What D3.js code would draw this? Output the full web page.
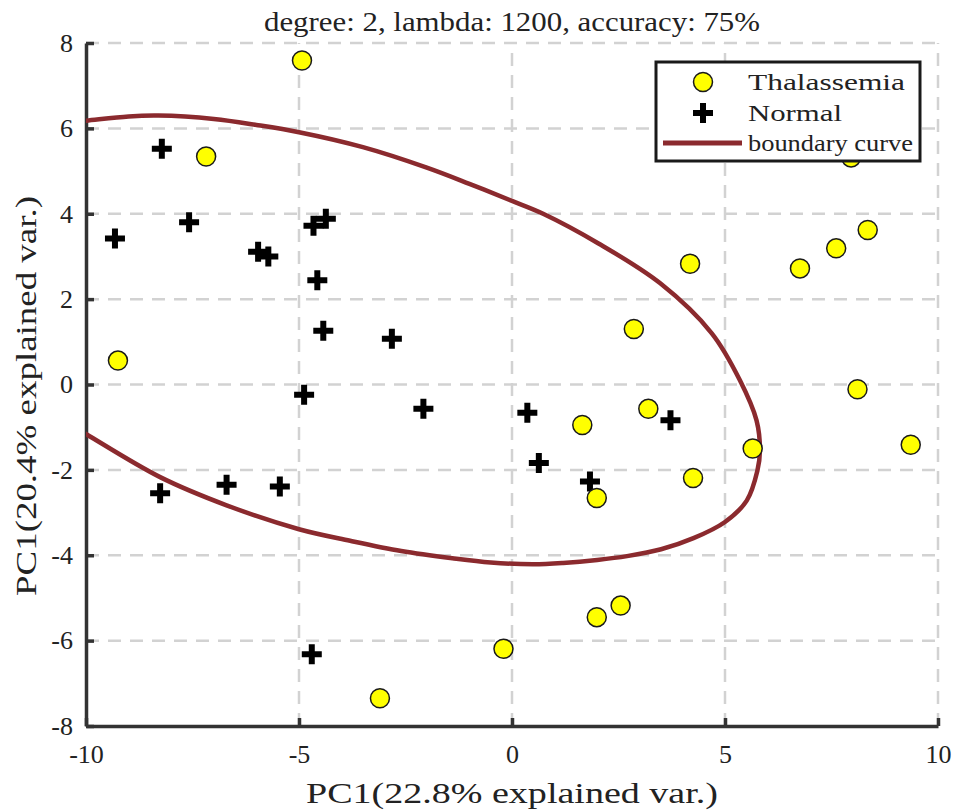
<!DOCTYPE html>
<html>
<head>
<meta charset="utf-8">
<script src="https://cdn.jsdelivr.net/npm/d3@7"></script>
<style>
  body { margin: 0; background: #fff; }
  text { font-family: "Liberation Serif", "DejaVu Serif", serif; fill: #222; }
</style>
</head>
<body>
<script>
// Thalassemia samples (PC1, PC2)
var thalX = [-4.93, -7.18, -9.25, 7.96, 4.18, 6.76, 7.61, 8.35, 2.86, 8.11, 9.36, 3.20, 1.65, 5.65, 4.25, 1.99, 2.55, 1.99, -0.20, -3.10];
var thalY = [7.59, 5.34, 0.56, 5.32, 2.83, 2.72, 3.19, 3.62, 1.30, -0.11, -1.41, -0.57, -0.95, -1.50, -2.19, -2.66, -5.18, -5.45, -6.19, -7.35];

// Normal samples
var normX = [-8.22, -9.32, -7.58, -5.96, -5.72, -4.66, -4.37, -4.57, -4.43, -2.82, -4.88, -2.08, 0.36, 3.72, 0.63, 1.83, -8.26, -6.70, -5.45, -4.70];
var normY = [5.52, 3.42, 3.80, 3.11, 3.00, 3.72, 3.88, 2.44, 1.26, 1.07, -0.24, -0.57, -0.66, -0.84, -1.84, -2.27, -2.55, -2.35, -2.39, -6.32];

// boundary curve
var curveX = [-10.6, -10, -9, -8.3, -7, -6, -5, -3.5, -2, -1, 0, 0.73, 2.02, 3.48, 4.69, 5.35, 5.74, 5.82, 5.76, 5.51, 5.0, 4.26, 3.5, 2.7, 2.0, 1.2, 0.5, -0.5, -1.4, -2.6, -3.8, -5.0, -6.70, -8.26, -10, -10.6];
var curveY = [6.12, 6.18, 6.28, 6.30, 6.22, 6.08, 5.91, 5.56, 5.08, 4.70, 4.30, 4.0, 3.31, 2.37, 1.20, 0.10, -0.84, -1.55, -2.02, -2.72, -3.22, -3.60, -3.86, -4.02, -4.11, -4.18, -4.21, -4.17, -4.07, -3.90, -3.66, -3.39, -2.83, -2.17, -1.16, -0.8];

var xTicks = [-10, -5, 0, 5, 10];
var yTicks = [-8, -6, -4, -2, 0, 2, 4, 6, 8];

var titleText = "degree: 2, lambda: 1200, accuracy: 75%";
var xLabel = "PC1(22.8% explained var.)";
var yLabel = "PC1(20.4% explained var.)";
var legendLabels = ["Thalassemia", "Normal", "boundary curve"];
var legendWidths = [157, 94, 165];

var W = 966, H = 812;
var margin = {top: 43, right: 28, bottom: 86, left: 86};

var x = d3.scaleLinear().domain([-10, 10]).range([margin.left, W - margin.right]);
var y = d3.scaleLinear().domain([-8, 8]).range([H - margin.bottom, margin.top]);

var svg = d3.select("body").append("svg")
  .attr("width", W)
  .attr("height", H);

svg.append("defs").append("clipPath")
  .attr("id", "plotclip")
  .append("rect")
  .attr("x", x(-10)).attr("y", y(8) - 10)
  .attr("width", x(10) - x(-10)).attr("height", y(-8) - y(8) + 10);

// Grid
var grid = svg.append("g");
grid.selectAll(".vg").data(xTicks.slice(1))
  .enter().append("line")
  .attr("x1", function (d) { return x(d); })
  .attr("x2", function (d) { return x(d); })
  .attr("y1", y(-8)).attr("y2", y(8))
  .attr("stroke", "#d2d2d2").attr("stroke-width", 2.5)
  .attr("stroke-dasharray", "13,9");
grid.selectAll(".hg").data(yTicks.slice(1))
  .enter().append("line")
  .attr("y1", function (d) { return y(d); })
  .attr("y2", function (d) { return y(d); })
  .attr("x1", x(-10)).attr("x2", x(10))
  .attr("stroke", "#d2d2d2").attr("stroke-width", 2.5)
  .attr("stroke-dasharray", "13,9");

// Axes (ticks pointing inward), plain hyphen for negatives
var fmt = function (d) { return String(d); };
var xAxis = svg.append("g")
  .attr("transform", "translate(0," + y(-8) + ")")
  .call(d3.axisBottom(x).tickValues(xTicks).tickFormat(fmt).tickSizeInner(-8).tickSizeOuter(0).tickPadding(14));
var yAxis = svg.append("g")
  .attr("transform", "translate(" + x(-10) + ",0)")
  .call(d3.axisLeft(y).tickValues(yTicks).tickFormat(fmt).tickSizeInner(-8).tickSizeOuter(0).tickPadding(13));

[xAxis, yAxis].forEach(function (a) {
  a.select(".domain").attr("stroke", "#333").attr("stroke-width", 3.5);
  a.selectAll(".tick line").attr("stroke", "#333").attr("stroke-width", 3.5);
  a.selectAll(".tick text")
    .style("font-family", "Liberation Serif")
    .style("font-size", "26px")
    .attr("fill", "#222");
});
xAxis.selectAll(".tick text").attr("dy", "0.9em");

// Boundary curve
var curvePts = curveX.map(function (d, i) { return [d, curveY[i]]; });
svg.append("path")
  .datum(curvePts)
  .attr("clip-path", "url(#plotclip)")
  .attr("fill", "none")
  .attr("stroke", "#8b2a2e")
  .attr("stroke-width", 4.5)
  .attr("d", d3.line()
    .x(function (d) { return x(d[0]); })
    .y(function (d) { return y(d[1]); })
    .curve(d3.curveCatmullRom));

// Plus marker path
var plusPath = "M-3,-10H3V-3H10V3H3V10H-3V3H-10V-3H-3Z";

// Normal crosses
svg.selectAll(".norm")
  .data(normX.map(function (d, i) { return [d, normY[i]]; }))
  .enter().append("path")
  .attr("d", plusPath)
  .attr("fill", "#000")
  .attr("transform", function (d) { return "translate(" + x(d[0]) + "," + y(d[1]) + ")"; });

// Thalassemia circles
svg.selectAll(".thal")
  .data(thalX.map(function (d, i) { return [d, thalY[i]]; }))
  .enter().append("circle")
  .attr("cx", function (d) { return x(d[0]); })
  .attr("cy", function (d) { return y(d[1]); })
  .attr("r", 9.5)
  .attr("fill", "#ffff00")
  .attr("stroke", "#1a1a1a")
  .attr("stroke-width", 1.5);

// Legend
var lg = svg.append("g").attr("transform", "translate(656,62)");
lg.append("rect")
  .attr("width", 264).attr("height", 99)
  .attr("fill", "#fff")
  .attr("stroke", "#1a1a1a").attr("stroke-width", 3);
lg.append("circle")
  .attr("cx", 47).attr("cy", 20).attr("r", 9.5)
  .attr("fill", "#ffff00").attr("stroke", "#1a1a1a").attr("stroke-width", 1.5);
lg.append("path")
  .attr("d", plusPath)
  .attr("transform", "translate(47,51)")
  .attr("fill", "#000");
lg.append("line")
  .attr("x1", 7).attr("x2", 86).attr("y1", 81).attr("y2", 81)
  .attr("stroke", "#8b2a2e").attr("stroke-width", 5);
lg.selectAll(".lt")
  .data(legendLabels)
  .enter().append("text")
  .attr("x", 92)
  .attr("y", function (d, i) { return 28 + i * 30.5; })
  .style("font-size", "24px")
  .attr("textLength", function (d, i) { return legendWidths[i]; })
  .attr("lengthAdjust", "spacingAndGlyphs")
  .text(function (d) { return d; });

// Title and axis labels
svg.append("text")
  .attr("x", 512).attr("y", 31)
  .attr("text-anchor", "middle")
  .style("font-size", "28px")
  .attr("textLength", 496)
  .attr("lengthAdjust", "spacingAndGlyphs")
  .text(titleText);

svg.append("text")
  .attr("x", 512).attr("y", 803)
  .attr("text-anchor", "middle")
  .style("font-size", "29px")
  .attr("textLength", 412)
  .attr("lengthAdjust", "spacingAndGlyphs")
  .text(xLabel);

svg.append("text")
  .attr("transform", "translate(36,396) rotate(-90)")
  .attr("text-anchor", "middle")
  .style("font-size", "29px")
  .attr("textLength", 400)
  .attr("lengthAdjust", "spacingAndGlyphs")
  .text(yLabel);
</script>
</body>
</html>
